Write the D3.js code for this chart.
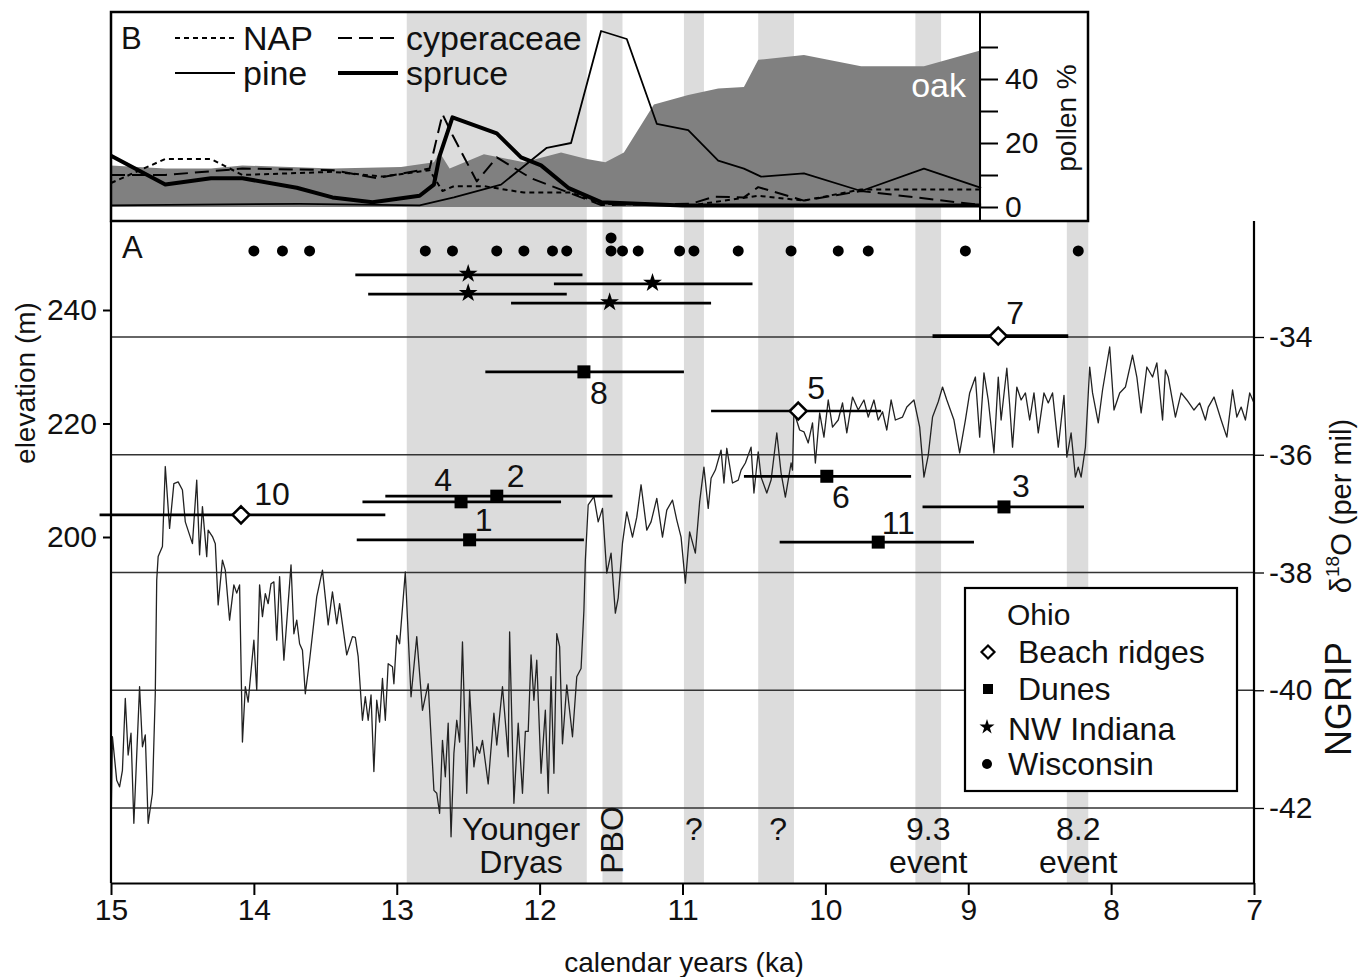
<!DOCTYPE html>
<html lang="en">
<head>
<meta charset="UTF-8">
<title>Lake levels, pollen and NGRIP</title>
<script src="https://d3js.org/d3.v7.min.js"></script>
<style>
  body { margin: 0; background: #fff; }
  svg text { font-family: "Liberation Sans", Arial, Helvetica, sans-serif; fill: #111; }
</style>
</head>
<body>
<svg id="chart" width="1367" height="977"></svg>
<script>
// ---------- data ----------
const xTicks = [15, 14, 13, 12, 11, 10, 9, 8, 7];
const elevTicks = [200, 220, 240];
const d18oTicks = [-34, -36, -38, -40, -42];
const pollenTicks = [0, 10, 20, 30, 40, 50];
const pollenLabelTicks = [0, 20, 40];

// grey event bands, [older, younger] ka
const bands = [[12.93, 11.67], [11.56, 11.42], [10.99, 10.85], [10.47, 10.22], [9.37, 9.19], [8.31, 8.16]];
const bandText = [
  { at: 12.13, lines: ["Younger", "Dryas"] },
  { at: 11.49, lines: ["PBO"], rotate: true },
  { at: 10.92, lines: ["?"] },
  { at: 10.33, lines: ["?"] },
  { at: 9.28, lines: ["9.3", "event"] },
  { at: 8.23, lines: ["8.2", "event"] }
];

// pollen % (panel B), [ka, %]
const oak = [[15.0, 13], [14.62, 12], [14.3, 12], [14.08, 13], [13.45, 12], [12.97, 12.5], [12.74, 14], [12.70, 17],
  [12.63, 12], [12.39, 16.5], [12.11, 14], [11.85, 17], [11.67, 15], [11.54, 14], [11.41, 17], [11.20, 32],
  [10.96, 35], [10.75, 37], [10.57, 37.5], [10.47, 46], [10.15, 47.5], [9.75, 44], [9.31, 44], [8.91, 49]];
const pine = [[15.0, 0.5], [13.68, 1], [12.84, 0.5], [12.6, 3], [12.27, 7], [11.95, 18.5], [11.78, 20], [11.57, 55],
  [11.39, 52.5], [11.18, 26], [10.96, 24], [10.75, 14.5], [10.57, 12], [10.45, 9.5], [10.15, 10.5], [9.75, 5],
  [9.31, 12], [8.91, 6]];
const spruce = [[15.0, 16], [14.62, 7], [14.3, 9], [14.08, 9], [13.7, 6], [13.45, 3], [13.17, 1.5], [12.84, 3.5],
  [12.74, 7], [12.70, 16], [12.61, 28], [12.3, 23], [12.13, 15.5], [11.99, 13], [11.8, 6], [11.57, 1.5],
  [11.0, 0.5], [8.91, 0.5]];
const cyperaceae = [[15.0, 10], [14.62, 10], [14.08, 12], [13.45, 11.5], [13.14, 9], [12.77, 12], [12.68, 29],
  [12.61, 22.5], [12.44, 8], [12.3, 15.5], [12.06, 9], [11.71, 3], [11.57, 0.6], [10.94, 1], [10.78, 3.2],
  [10.57, 3], [10.47, 6.2], [10.15, 2], [9.75, 5], [8.91, 0.6]];
const nap = [[15.0, 7.5], [14.62, 15], [14.3, 15], [14.08, 10], [13.45, 11], [13.1, 9.5], [12.77, 11.5], [12.68, 5],
  [12.6, 6.5], [12.39, 6.5], [12.11, 4.5], [11.78, 4.5], [11.57, 1], [10.94, 0.5], [10.47, 3.5], [10.15, 2],
  [9.75, 5.5], [8.91, 5.5]];

// NGRIP d18O (per mil), [ka, value]
const ngrip = [[15.00,-42.38],[14.99,-40.79],[14.96,-41.53],[14.94,-41.64],[14.92,-41.36],[14.90,-40.14],[14.88,-41.10],
  [14.86,-40.73],[14.84,-42.26],[14.80,-39.94],[14.78,-40.96],[14.76,-40.76],[14.74,-42.26],[14.71,-41.75],[14.69,-40.05],
  [14.68,-38.13],[14.67,-37.73],[14.64,-37.56],[14.62,-36.20],[14.59,-37.25],[14.56,-36.49],[14.53,-36.46],[14.50,-36.60],
  [14.48,-37.14],[14.43,-37.51],[14.40,-36.43],[14.38,-37.70],[14.36,-36.88],[14.33,-37.73],[14.32,-37.28],[14.29,-37.39],
  [14.27,-37.51],[14.25,-38.55],[14.22,-37.79],[14.20,-37.96],[14.17,-38.81],[14.14,-38.21],[14.12,-38.35],[14.10,-38.21],
  [14.08,-40.88],[14.06,-39.94],[14.04,-40.20],[14.00,-39.15],[13.98,-40.00],[13.96,-38.21],[13.94,-38.75],[13.92,-38.36],
  [13.90,-38.53],[13.88,-38.19],[13.86,-38.16],[13.84,-39.15],[13.82,-38.07],[13.79,-39.49],[13.74,-37.87],[13.72,-39.04],
  [13.70,-38.81],[13.68,-39.21],[13.66,-39.32],[13.64,-40.06],[13.61,-39.49],[13.56,-38.41],[13.52,-37.96],[13.48,-38.89],
  [13.45,-38.33],[13.42,-38.87],[13.40,-38.53],[13.35,-39.40],[13.31,-39.09],[13.29,-39.10],[13.27,-39.43],[13.24,-40.51],
  [13.22,-40.11],[13.20,-40.51],[13.18,-40.08],[13.16,-41.38],[13.14,-40.17],[13.12,-40.54],[13.10,-39.80],[13.08,-40.51],
  [13.06,-39.55],[13.03,-39.60],[13.02,-39.89],[13.00,-39.07],[12.98,-39.21],[12.94,-37.99],[12.90,-40.11],[12.86,-39.09],
  [12.82,-40.34],[12.78,-39.89],[12.74,-41.70],[12.72,-41.75],[12.70,-42.09],[12.68,-40.85],[12.66,-41.47],[12.64,-40.56],
  [12.62,-42.49],[12.60,-41.07],[12.58,-40.51],[12.56,-40.88],[12.54,-39.18],[12.51,-41.75],[12.49,-40.00],[12.46,-41.30],
  [12.44,-40.96],[12.42,-41.07],[12.40,-40.85],[12.36,-41.59],[12.32,-40.39],[12.30,-40.93],[12.26,-39.94],[12.22,-41.13],
  [12.21,-39.01],[12.18,-41.92],[12.15,-40.56],[12.12,-41.75],[12.10,-40.70],[12.08,-40.70],[12.06,-39.40],[12.04,-40.17],
  [12.02,-39.49],[11.99,-41.41],[11.96,-40.34],[11.94,-41.75],[11.92,-39.77],[11.90,-41.41],[11.88,-39.04],[11.86,-39.26],
  [11.84,-40.91],[11.81,-39.91],[11.77,-40.79],[11.74,-39.77],[11.71,-39.63],[11.69,-38.64],[11.68,-37.79],[11.66,-36.85],
  [11.62,-36.71],[11.59,-37.14],[11.56,-36.91],[11.53,-38.01],[11.50,-37.67],[11.47,-38.69],[11.45,-38.43],[11.42,-37.50],
  [11.39,-36.97],[11.35,-37.40],[11.32,-37.06],[11.29,-36.51],[11.25,-37.28],[11.22,-37.14],[11.18,-36.74],[11.14,-37.40],
  [11.11,-36.94],[11.07,-36.77],[11.04,-37.11],[11.01,-37.40],[10.98,-38.18],[10.95,-37.31],[10.91,-37.67],[10.88,-36.80],
  [10.85,-36.21],[10.82,-36.91],[10.80,-36.40],[10.77,-36.26],[10.73,-35.92],[10.71,-36.48],[10.69,-35.89],[10.65,-36.48],
  [10.61,-36.43],[10.59,-36.26],[10.56,-36.14],[10.52,-35.87],[10.50,-36.65],[10.47,-35.95],[10.45,-36.38],[10.41,-36.65],
  [10.38,-36.43],[10.34,-35.63],[10.31,-36.31],[10.28,-36.72],[10.24,-36.14],[10.23,-36.26],[10.22,-35.27],[10.18,-35.58],
  [10.15,-35.61],[10.12,-35.80],[10.09,-35.46],[10.07,-36.14],[10.04,-35.29],[10.01,-35.70],[9.98,-35.07],[9.95,-35.53],
  [9.91,-35.41],[9.88,-35.12],[9.85,-35.63],[9.81,-35.02],[9.77,-35.24],[9.73,-35.07],[9.70,-35.36],[9.66,-35.07],
  [9.63,-35.41],[9.60,-35.27],[9.57,-35.58],[9.54,-35.07],[9.51,-35.41],[9.46,-35.36],[9.43,-35.19],[9.38,-35.07],
  [9.34,-35.53],[9.31,-36.38],[9.28,-36.01],[9.25,-35.36],[9.21,-35.10],[9.18,-34.85],[9.15,-35.07],[9.10,-35.41],
  [9.06,-35.97],[9.02,-35.41],[8.99,-34.95],[8.95,-34.68],[8.92,-35.70],[8.89,-34.61],[8.86,-35.07],[8.82,-35.97],
  [8.79,-34.68],[8.77,-35.41],[8.73,-34.53],[8.71,-35.16],[8.69,-35.87],[8.66,-34.85],[8.63,-35.07],[8.60,-34.95],
  [8.57,-35.41],[8.54,-34.95],[8.51,-35.63],[8.47,-34.95],[8.44,-35.12],[8.41,-34.95],[8.37,-35.87],[8.33,-34.99],
  [8.31,-36.04],[8.28,-35.63],[8.25,-36.38],[8.23,-36.21],[8.21,-36.38],[8.18,-35.87],[8.15,-34.51],[8.13,-34.95],
  [8.09,-35.46],[8.06,-34.90],[8.01,-34.17],[7.98,-35.24],[7.94,-34.95],[7.90,-34.85],[7.85,-34.31],[7.82,-34.68],
  [7.79,-35.29],[7.75,-34.51],[7.71,-34.68],[7.68,-34.44],[7.64,-35.41],[7.62,-34.56],[7.60,-34.68],[7.55,-35.36],
  [7.51,-34.95],[7.47,-35.07],[7.42,-35.24],[7.38,-35.12],[7.34,-35.41],[7.32,-35.19],[7.28,-35.02],[7.23,-35.41],
  [7.19,-35.70],[7.15,-34.90],[7.12,-35.36],[7.09,-35.19],[7.06,-35.41],[7.03,-34.95],[7.00,-35.12]];

// dated shorelines: age (ka) with range, elevation (m)
const beachRidges = [
  { id: "10", age: 14.09, lo: 15.08, hi: 13.08, elev: 203.9 },
  { id: "5", age: 10.19, lo: 10.80, hi: 9.61, elev: 222.2 },
  { id: "7", age: 8.79, lo: 9.25, hi: 8.30, elev: 235.4 }
];
const dunes = [
  { id: "8", age: 11.69, lo: 12.38, hi: 10.99, elev: 229.1 },
  { id: "4", age: 12.55, lo: 13.24, hi: 11.85, elev: 206.2 },
  { id: "2", age: 12.30, lo: 13.08, hi: 11.49, elev: 207.2 },
  { id: "1", age: 12.49, lo: 13.28, hi: 11.69, elev: 199.5 },
  { id: "6", age: 9.99, lo: 10.57, hi: 9.40, elev: 210.7 },
  { id: "3", age: 8.75, lo: 9.32, hi: 8.19, elev: 205.3 },
  { id: "11", age: 9.63, lo: 10.32, hi: 8.96, elev: 199.1 }
];
const indiana = [
  { age: 12.50, lo: 13.29, hi: 11.70, elev: 246.2 },
  { age: 12.50, lo: 13.20, hi: 11.81, elev: 242.8 },
  { age: 11.21, lo: 11.90, hi: 10.51, elev: 244.6 },
  { age: 11.51, lo: 12.20, hi: 10.80, elev: 241.2 }
];
const wisconsin = [[14.0, 250.4], [13.80, 250.4], [13.61, 250.4], [12.80, 250.4], [12.61, 250.4], [12.30, 250.4],
  [12.11, 250.4], [11.91, 250.4], [11.81, 250.4], [11.50, 250.4], [11.50, 252.7], [11.42, 250.4], [11.31, 250.4],
  [11.02, 250.4], [10.92, 250.4], [10.61, 250.4], [10.24, 250.4], [9.91, 250.4], [9.70, 250.4], [9.02, 250.4],
  [8.23, 250.4]];

// where each site number sits relative to its marker (px)
const labelShift = { "10": [31, -21], "5": [18, -23], "7": [17, -23], "8": [15, 21], "4": [-18, -22],
  "2": [19, -20], "1": [14, -20], "6": [14, 21], "3": [17, -21], "11": [20, -19] };

// ---------- layout ----------
const svg = d3.select("#chart");
const left = 111, right = 1254, bTop = 12, bBottom = 221, bRight = 1088, bAxis = 980, aBottom = 883;

const x = d3.scaleLinear().domain([15, 7]).range([left, right]);
const yPollen = d3.scaleLinear().domain([0, 50]).range([207, 47]);
const yElev = d3.scaleLinear().domain([200, 240]).range([537, 310]);
const yD18o = d3.scaleLinear().domain([-42, -34]).range([808, 337]);

// grey bands: full height in A, clipped to the pollen plot in B
const bandG = svg.append("g").attr("fill", "#dcdcdc");
bands.forEach(b => {
  bandG.append("rect").attr("x", x(b[0])).attr("width", x(b[1]) - x(b[0]))
    .attr("y", bBottom).attr("height", aBottom - bBottom);
  const x0 = x(b[0]), x1 = Math.min(x(b[1]), bAxis);
  if (x1 > x0) bandG.append("rect").attr("x", x0).attr("width", x1 - x0)
    .attr("y", bTop).attr("height", bBottom - bTop);
});

// ---------- panel B: pollen ----------
const px = d => x(d[0]), py = d => yPollen(d[1]);
svg.append("path").datum(oak).attr("fill", "#808080")
  .attr("d", d3.area().x(px).y0(yPollen(0)).y1(py));
svg.append("text").attr("x", 966).attr("y", 97).attr("text-anchor", "end")
  .attr("font-size", 34).style("fill", "#fff").text("oak");

const pollenLine = d3.line().x(px).y(py);
const pollenSeries = [
  { data: nap, dash: "5,4", width: 2 },
  { data: cyperaceae, dash: "14,7", width: 2 },
  { data: pine, dash: null, width: 1.8 },
  { data: spruce, dash: null, width: 4 }
];
pollenSeries.forEach(s => {
  svg.append("path").datum(s.data).attr("fill", "none").attr("stroke", "#000")
    .attr("stroke-width", s.width).attr("stroke-dasharray", s.dash)
    .attr("stroke-linejoin", "round").attr("d", pollenLine);
});

// B legend
const bLegend = [
  { name: "NAP", dash: "5,4", width: 2, lx: 175, ly: 38 },
  { name: "cyperaceae", dash: "14,7", width: 2, lx: 338, ly: 38 },
  { name: "pine", dash: null, width: 1.8, lx: 175, ly: 73 },
  { name: "spruce", dash: null, width: 4, lx: 338, ly: 73 }
];
bLegend.forEach(l => {
  svg.append("line").attr("x1", l.lx).attr("x2", l.lx + 60).attr("y1", l.ly).attr("y2", l.ly)
    .attr("stroke", "#000").attr("stroke-width", l.width).attr("stroke-dasharray", l.dash);
  svg.append("text").attr("x", l.lx + 68).attr("y", l.ly).attr("dominant-baseline", "central")
    .attr("font-size", 34).text(l.name);
});
svg.append("text").attr("x", 121).attr("y", 38).attr("dominant-baseline", "central")
  .attr("font-size", 31).text("B");

// pollen axis
const pAxis = svg.append("g").attr("transform", `translate(${bAxis},0)`)
  .call(d3.axisRight(yPollen).tickValues(pollenTicks).tickSize(18).tickPadding(7)
    .tickFormat(d => pollenLabelTicks.includes(d) ? d : ""));
pAxis.select(".domain").remove();
pAxis.selectAll("line").attr("stroke-width", 2);
pAxis.selectAll("text").attr("font-size", 30).style("font-family", "Liberation Sans, Arial, sans-serif");
svg.append("text").attr("transform", "translate(1066,118) rotate(-90)").attr("text-anchor", "middle")
  .attr("dominant-baseline", "central").attr("font-size", 28).text("pollen %");

// B frame
svg.append("rect").attr("x", left).attr("y", bTop).attr("width", bRight - left).attr("height", bBottom - bTop)
  .attr("fill", "none").attr("stroke", "#000").attr("stroke-width", 2.5);
svg.append("line").attr("x1", bAxis).attr("x2", bAxis).attr("y1", bTop).attr("y2", bBottom)
  .attr("stroke", "#000").attr("stroke-width", 2);

// ---------- panel A ----------
// NGRIP grid lines
svg.append("g").selectAll("line").data(d18oTicks).join("line")
  .attr("x1", left).attr("x2", right).attr("y1", d => yD18o(d)).attr("y2", d => yD18o(d))
  .attr("stroke", "#333").attr("stroke-width", 1.3);

svg.append("path").datum(ngrip).attr("fill", "none").attr("stroke", "#222").attr("stroke-width", 1.3)
  .attr("stroke-linejoin", "round")
  .attr("d", d3.line().x(d => x(d[0])).y(d => yD18o(d[1])));

// age ranges
const allBars = beachRidges.map(d => ({ ...d, w: d.id === "7" ? 3.6 : 2.7 }))
  .concat(dunes.map(d => ({ ...d, w: 2.7 })), indiana.map(d => ({ ...d, w: 2.7 })));
svg.append("g").selectAll("line").data(allBars).join("line")
  .attr("x1", d => x(d.lo)).attr("x2", d => x(d.hi))
  .attr("y1", d => yElev(d.elev)).attr("y2", d => yElev(d.elev))
  .attr("stroke", "#000").attr("stroke-width", d => d.w);

const diamond = r => `M0,${-r}L${r},0L0,${r}L${-r},0Z`;
svg.append("g").selectAll("path").data(beachRidges).join("path")
  .attr("transform", d => `translate(${x(d.age)},${yElev(d.elev)})`)
  .attr("d", diamond(8.5)).attr("fill", "#fff").attr("stroke", "#000").attr("stroke-width", 2.5);
svg.append("g").selectAll("rect").data(dunes).join("rect")
  .attr("x", d => x(d.age) - 6.5).attr("y", d => yElev(d.elev) - 6.5)
  .attr("width", 13).attr("height", 13).attr("fill", "#000");
svg.append("g").selectAll("path").data(indiana).join("path")
  .attr("transform", d => `translate(${x(d.age)},${yElev(d.elev) - 1})`)
  .attr("d", d3.symbol(d3.symbolStar, 110)).attr("fill", "#000");
svg.append("g").selectAll("circle").data(wisconsin).join("circle")
  .attr("cx", d => x(d[0])).attr("cy", d => yElev(d[1])).attr("r", 5.5).attr("fill", "#000");

svg.append("g").selectAll("text").data(beachRidges.concat(dunes)).join("text")
  .attr("x", d => x(d.age) + labelShift[d.id][0]).attr("y", d => yElev(d.elev) + labelShift[d.id][1])
  .attr("text-anchor", "middle").attr("dominant-baseline", "central").attr("font-size", 32)
  .text(d => d.id);

svg.append("text").attr("x", 122).attr("y", 247).attr("dominant-baseline", "central")
  .attr("font-size", 31).text("A");

// event labels
bandText.forEach(t => {
  if (t.rotate) {
    svg.append("text").attr("transform", `translate(${x(t.at)},840) rotate(-90)`)
      .attr("text-anchor", "middle").attr("dominant-baseline", "central").attr("font-size", 32).text(t.lines[0]);
  } else {
    t.lines.forEach((s, i) => {
      svg.append("text").attr("x", x(t.at)).attr("y", 829 + i * 33).attr("text-anchor", "middle")
        .attr("dominant-baseline", "central").attr("font-size", 32).text(s);
    });
  }
});

// legend
const lg = svg.append("g");
lg.append("rect").attr("x", 965).attr("y", 588).attr("width", 272).attr("height", 203)
  .attr("fill", "#fff").attr("stroke", "#000").attr("stroke-width", 2.2);
lg.append("text").attr("x", 1007).attr("y", 614).attr("dominant-baseline", "central")
  .attr("font-size", 30).text("Ohio");
lg.append("path").attr("transform", "translate(988,652)").attr("d", diamond(6.5))
  .attr("fill", "#fff").attr("stroke", "#000").attr("stroke-width", 2.2);
lg.append("rect").attr("x", 983).attr("y", 684).attr("width", 10).attr("height", 10).attr("fill", "#000");
lg.append("path").attr("transform", "translate(987,727)").attr("d", d3.symbol(d3.symbolStar, 70)).attr("fill", "#000");
lg.append("circle").attr("cx", 987).attr("cy", 764).attr("r", 5).attr("fill", "#000");
[["Beach ridges", 1018, 652], ["Dunes", 1018, 689], ["NW Indiana", 1008, 729], ["Wisconsin", 1008, 764]]
  .forEach(t => lg.append("text").attr("x", t[1]).attr("y", t[2]).attr("dominant-baseline", "central")
    .attr("font-size", 32).text(t[0]));

// ---------- axes ----------
const styleAxis = g => {
  g.selectAll("line").attr("stroke", "#000").attr("stroke-width", 2);
  g.selectAll("text").attr("font-size", 30).style("font-family", "Liberation Sans, Arial, sans-serif")
    .style("fill", "#111");
};
const xAxis = svg.append("g").attr("transform", `translate(0,${aBottom})`)
  .call(d3.axisBottom(x).tickValues(xTicks).tickSize(12).tickSizeOuter(0).tickPadding(4));
xAxis.select(".domain").attr("stroke-width", 2.2);
styleAxis(xAxis);

const lAxis = svg.append("g").attr("transform", `translate(${left},0)`)
  .call(d3.axisLeft(yElev).tickValues(elevTicks).tickSize(8).tickPadding(6));
lAxis.select(".domain").remove();
styleAxis(lAxis);

const rAxis = svg.append("g").attr("transform", `translate(${right},0)`)
  .call(d3.axisRight(yD18o).tickValues(d18oTicks).tickSize(10).tickPadding(5).tickFormat(d => String(d)));
rAxis.select(".domain").remove();
styleAxis(rAxis);
rAxis.selectAll("line").attr("stroke-width", 1.3);

svg.append("line").attr("x1", left).attr("x2", left).attr("y1", bBottom).attr("y2", aBottom)
  .attr("stroke", "#000").attr("stroke-width", 2.2);
svg.append("line").attr("x1", right).attr("x2", right).attr("y1", bBottom).attr("y2", aBottom)
  .attr("stroke", "#000").attr("stroke-width", 2.2);

// axis titles
svg.append("text").attr("x", 684).attr("y", 962).attr("text-anchor", "middle")
  .attr("dominant-baseline", "central").attr("font-size", 28).text("calendar years (ka)");
svg.append("text").attr("transform", "translate(25,383) rotate(-90)").attr("text-anchor", "middle")
  .attr("dominant-baseline", "central").attr("font-size", 28).text("elevation (m)");
const dt = svg.append("text").attr("transform", "translate(1341,506) rotate(-90)").attr("text-anchor", "middle")
  .attr("dominant-baseline", "central").attr("font-size", 29);
dt.append("tspan").text("δ");
dt.append("tspan").attr("font-size", 19).attr("dy", -9).text("18");
dt.append("tspan").attr("dy", 9).text("O (per mil)");
svg.append("text").attr("transform", "translate(1338,699) rotate(-90)").attr("text-anchor", "middle")
  .attr("dominant-baseline", "central").attr("font-size", 36).text("NGRIP");
</script>
</body>
</html>
